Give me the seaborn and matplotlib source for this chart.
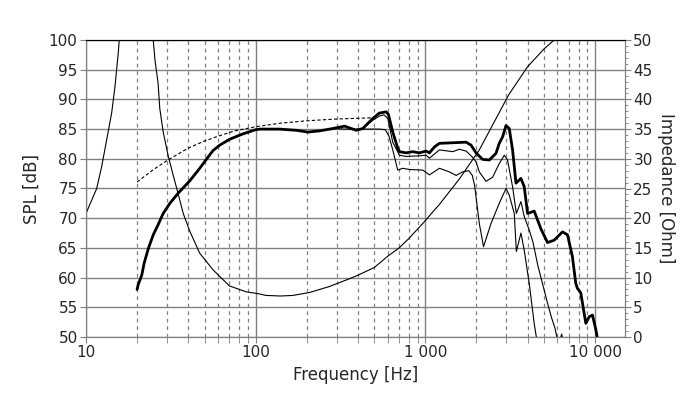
import matplotlib
matplotlib.use("Agg")
import matplotlib.pyplot as plt
import seaborn as sns
from matplotlib.ticker import FixedLocator, FuncFormatter, MultipleLocator, NullFormatter

# SPL, all three curves are the same below ~300 Hz
freq_low = [20, 20.3, 21.3, 22, 23.3, 24.9, 26.6, 28.5, 31.2, 34.9, 40.9, 46.8, 52.4, 56.1,
            61.4, 70.3, 84.2, 100, 106, 138, 173, 203, 238, 285]
spl_low = [58.0, 58.8, 60.4, 62.4, 64.9, 67.2, 68.9, 70.8, 72.5, 74.2, 76.3, 78.4, 80.3, 81.4,
           82.3, 83.3, 84.2, 84.9, 85.0, 85.0, 84.8, 84.5, 84.7, 85.1]

# on-axis (thick)
freq_0 = [334, 391, 428, 490, 536, 587, 605, 642, 687, 703, 769, 841, 922, 1009, 1056, 1130,
          1209, 1449, 1738, 1858, 1987, 2174, 2379, 2604, 2723, 2851, 2985, 3119, 3263, 3417,
          3655, 3822, 4000, 4375, 4794, 5241, 5740, 6425, 6875, 7350, 7694, 7866, 8236, 8815,
          9223, 9643, 10090, 10317, 10450]
spl_0 = [85.5, 84.8, 85.1, 86.8, 87.7, 87.9, 87.5, 84.5, 81.8, 81.2, 81.0, 81.2, 81.0, 81.3, 81.0,
         82.0, 82.6, 82.7, 82.8, 82.3, 81.0, 79.9, 79.8, 80.9, 82.6, 83.7, 85.6, 85.1, 81.5, 75.9,
         76.7, 75.3, 70.8, 71.2, 68.2, 65.9, 66.3, 67.7, 67.2, 63.5, 59.0, 58.2, 57.4, 52.3,
         53.4, 53.7, 51.3, 49.8, 48.5]

# 30 deg (thin)
freq_30 = [334, 391, 428, 490, 536, 570, 600, 642, 703, 769, 922, 1009, 1056, 1209, 1449, 1585,
           1738, 1890, 1987, 2078, 2276, 2490, 2723, 2915, 3046, 3263, 3435, 3655, 3822, 4091,
           4300, 4600, 5000, 5241, 5530, 5800, 5950, 6100, 6350, 6600]
spl_30 = [85.5, 84.8, 85.1, 86.5, 87.2, 87.4, 86.8, 82.8, 80.6, 80.4, 80.5, 80.6, 80.1, 81.5,
          81.2, 81.6, 81.3, 80.3, 79.5, 77.8, 76.2, 76.9, 79.2, 80.6, 79.8, 75.3, 70.8, 72.8,
          70.3, 68.0, 66.0, 62.0, 58.0, 55.7, 53.3, 51.5, 50.0, 48.5, 50.5, 48.0]

# 60 deg (thin)
freq_60 = [334, 391, 428, 490, 536, 580, 610, 642, 687, 735, 805, 964, 1056, 1209, 1384, 1517,
           1657, 1800, 1890, 1950, 2078, 2200, 2435, 2723, 2985, 3119, 3338, 3435, 3655, 3822,
           4091, 4375, 4516, 4600]
spl_60 = [85.0, 85.0, 85.0, 85.0, 85.0, 84.9, 83.8, 81.5, 78.1, 78.4, 78.2, 78.1, 77.3, 78.4,
          77.8, 77.2, 77.8, 78.0, 77.2, 75.5, 69.1, 65.2, 69.1, 72.5, 75.0, 73.9, 70.8, 64.4,
          67.5, 64.6, 59.0, 52.3, 49.8, 48.0]

# dashed curve
freq_dash = [20, 25, 30, 40, 50, 60, 75, 100, 140, 200, 300, 480]
spl_dash = [76.1, 78.2, 79.7, 81.8, 83.0, 83.8, 84.7, 85.4, 86.0, 86.4, 86.7, 86.9]

# impedance [Ohm]
freq_imp = [10, 11.56, 12.37, 13.24, 14.16, 14.81, 15.49, 15.7, 17, 19, 21, 23, 24.9, 25.5,
            26.6, 27.2, 28.5, 30.5, 32.6, 35, 37.4, 40.9, 46.8, 56.1, 70, 88, 103, 115, 140,
            166, 208, 272, 342, 400, 500, 600, 700, 800, 1000, 1100, 1200, 1585, 2078, 3100,
            4000, 5000, 5900]
imp = [20.8, 25.0, 28.7, 33.2, 37.7, 42.1, 47.8, 50.0, 58, 64, 62, 56, 50.0, 46.6,
       42.7, 38.5, 34.5, 30.5, 27.3, 24.0, 20.8, 17.8, 14.1, 11.3, 8.6, 7.6, 7.3, 7.0, 6.9,
       7.0, 7.5, 8.5, 9.6, 10.4, 11.7, 13.6, 15.0, 16.6, 19.6, 21.0, 22.2, 26.6, 31.5, 40.8,
       45.5, 48.5, 50.3]

x_ticks = [10, 100, 1000, 10000]
x_ticklabels = ["10", "100", "1 000", "10 000"]

sns.set_style("white")
plt.rcParams["font.family"] = ["DejaVu Sans"]

fig = plt.figure(figsize=(7, 3.99), dpi=100)
ax = fig.add_axes([86 / 700, 1 - 337 / 399, (625 - 86) / 700, (337 - 40) / 399])
ax2 = ax.twinx()

grid_c = "#808080"
ax.set_xscale("log")
ax.set_xlim(10, 15000)
ax.set_ylim(50, 100)
ax2.set_ylim(0, 50)

# grid
ax.set_yticks(range(50, 101, 5))
ax.xaxis.set_major_locator(FixedLocator(x_ticks))
ax.xaxis.set_major_formatter(FuncFormatter(lambda v, p: x_ticklabels[x_ticks.index(int(round(v)))]
                                           if int(round(v)) in x_ticks else ""))
minors = [m * d for d in (10, 100, 1000) for m in range(2, 10) if m * d < 15000]
ax.xaxis.set_minor_locator(FixedLocator(minors))
ax.xaxis.set_minor_formatter(NullFormatter())
ax.grid(True, which="major", axis="both", color=grid_c, lw=1.0, ls="-")
ax.grid(True, which="minor", axis="x", color=grid_c, lw=0.9, ls=(0, (3, 3)))
ax.set_axisbelow(True)

sns.lineplot(x=freq_imp, y=imp, ax=ax2, color="black", lw=0.8, sort=False)
sns.lineplot(x=freq_dash, y=spl_dash, ax=ax, color="black", lw=0.8, ls=(0, (3, 2)))
sns.lineplot(x=freq_low + freq_60, y=spl_low + spl_60, ax=ax, color="black", lw=0.8)
sns.lineplot(x=freq_low + freq_30, y=spl_low + spl_30, ax=ax, color="black", lw=0.8)
sns.lineplot(x=freq_low + freq_0, y=spl_low + spl_0, ax=ax, color="black", lw=2.0)

for a in (ax, ax2):
    for s in a.spines.values():
        s.set_color(grid_c)
    a.spines["top"].set_color("black")
ax.tick_params(axis="both", which="major", direction="out", length=4, color=grid_c,
               labelsize=11, pad=2, left=True, bottom=True)
ax.tick_params(axis="x", which="minor", direction="out", length=4, color=grid_c, bottom=True)
ax2.yaxis.set_major_locator(MultipleLocator(5))
ax2.yaxis.set_minor_locator(MultipleLocator(1))
ax2.tick_params(axis="y", which="major", direction="out", length=4, color=grid_c,
                labelsize=11, pad=2, right=True)
ax2.tick_params(axis="y", which="minor", direction="out", length=2, color=grid_c, right=True)

ax.set_xlabel("Frequency [Hz]", fontsize=12, labelpad=4)
ax.set_ylabel("SPL [dB]", fontsize=12, labelpad=6)
ax2.set_ylabel("Impedance [Ohm]", fontsize=12, rotation=270, labelpad=16)

fig.savefig("out.png", dpi=100)
